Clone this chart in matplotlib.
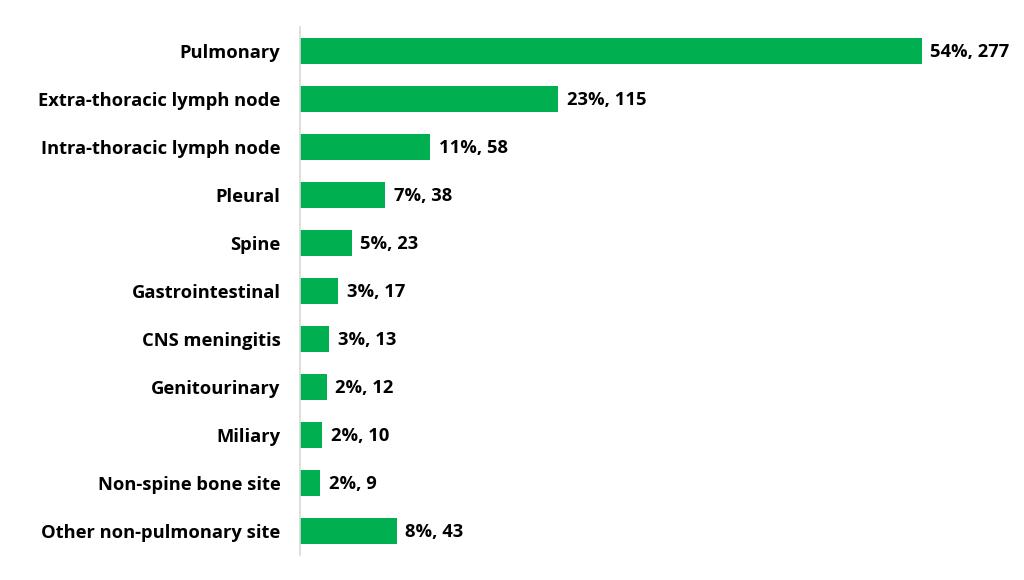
import numpy as np
import matplotlib.pyplot as plt

plt.rcParams['font.family'] = ['Open Sans', 'DejaVu Sans']

sites = ['Pulmonary', 'Extra-thoracic lymph node', 'Intra-thoracic lymph node',
         'Pleural', 'Spine', 'Gastrointestinal', 'CNS meningitis', 'Genitourinary',
         'Miliary', 'Non-spine bone site', 'Other non-pulmonary site']
counts = [277, 115, 58, 38, 23, 17, 13, 12, 10, 9, 43]
percents = [54, 23, 11, 7, 5, 3, 3, 2, 2, 2, 8]

fig = plt.figure(figsize=(10.24, 5.8), dpi=100)
ax = fig.add_axes([300 / 1024, 25 / 580, 622 / 1024, 528 / 580])

y = np.arange(len(sites))
ax.barh(y, counts, height=0.54, color='#00B050')
ax.set_xlim(0, 277)
ax.set_ylim(len(sites) - 0.5, -0.5)
ax.set_yticks(y)
ax.set_yticklabels(sites, fontsize=13.2, fontweight='bold')
ax.tick_params(axis='y', length=0, pad=14)
ax.set_xticks([])

for yi, c, p in zip(y, counts, percents):
    ax.annotate(f'{p}%, {c}', (c, yi), xytext=(6, -1), textcoords='offset points',
                va='center', ha='left', fontsize=13.2, fontweight='bold', clip_on=False)

for s in ['top', 'right', 'bottom']:
    ax.spines[s].set_visible(False)
ax.spines['left'].set_color('#D9D9D9')
ax.spines['left'].set_linewidth(1.2)

plt.savefig('out.png')
